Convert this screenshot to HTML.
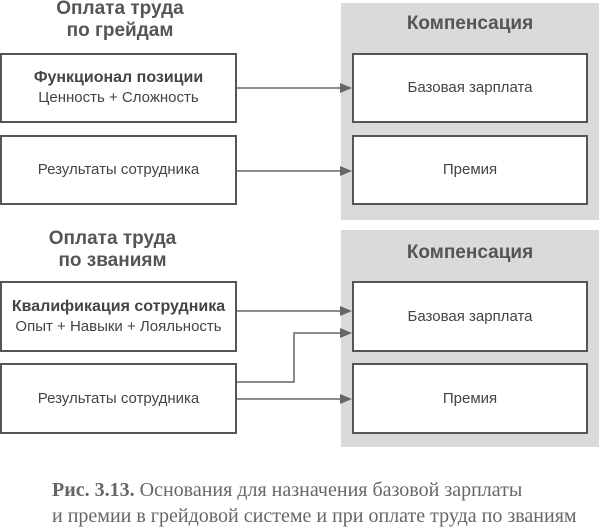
<!DOCTYPE html>
<html><head><meta charset="utf-8"><style>
body{margin:0;width:600px;height:525px;background:#fff;overflow:hidden;font-family:"Liberation Sans",sans-serif;color:#4a4a4a}
.a{position:absolute}
.t{position:absolute;font-weight:bold;font-size:19px;text-align:center;line-height:22px;color:#555}
.g{position:absolute;background:#dadada;left:341px;width:258px}
.b{position:absolute;border:2px solid #555;background:#fff;box-sizing:border-box;display:flex;flex-direction:column;justify-content:center;align-items:center;font-size:15px;line-height:20px;color:#444}
.b b{font-size:16px}
.cap{position:absolute;left:52px;font-family:"Liberation Serif",serif;font-size:20px;color:#666;line-height:26px;white-space:nowrap}
</style></head><body>
<div class="t" style="left:0;width:240px;top:-2px">Оплата труда<br>по грейдам</div>
<div class="g" style="top:3px;height:217px"></div>
<div class="t" style="left:341px;width:258px;top:13px">Компенсация</div>
<div class="b" style="left:0;top:53px;width:237px;height:70px"><b>Функционал позиции</b><span>Ценность + Сложность</span></div>
<div class="b" style="left:0;top:135px;width:237px;height:70px">Результаты сотрудника</div>
<div class="b" style="left:352px;top:53px;width:236px;height:70px">Базовая зарплата</div>
<div class="b" style="left:352px;top:135px;width:236px;height:70px">Премия</div>

<div class="t" style="left:0;width:225px;top:228px">Оплата труда<br>по званиям</div>
<div class="g" style="top:230px;height:217px"></div>
<div class="t" style="left:341px;width:258px;top:242px">Компенсация</div>
<div class="b" style="left:0;top:281px;width:237px;height:71px"><b>Квалификация сотрудника</b><span>Опыт + Навыки + Лояльность</span></div>
<div class="b" style="left:0;top:363px;width:237px;height:71px">Результаты сотрудника</div>
<div class="b" style="left:352px;top:281px;width:236px;height:71px">Базовая зарплата</div>
<div class="b" style="left:352px;top:363px;width:236px;height:71px">Премия</div>

<svg class="a" style="left:0;top:0" width="600" height="525">
<g stroke="#666" stroke-width="1.5" fill="none">
<path d="M237 88H342M237 171H342M237 311H342M237 382H294V333H342M237 399H342"/>
</g>
<g fill="#666">
<path d="M340 83L352 88L340 93Z"/><path d="M340 166L352 171L340 176Z"/>
<path d="M340 306L352 311L340 316Z"/><path d="M340 328L352 333L340 338Z"/>
<path d="M340 394L352 399L340 404Z"/>
</g></svg>
<div class="cap" style="top:477px"><b>Рис. 3.13.</b> Основания для назначения базовой зарплаты<br>и премии в грейдовой системе и при оплате труда по званиям</div>
</body></html>
